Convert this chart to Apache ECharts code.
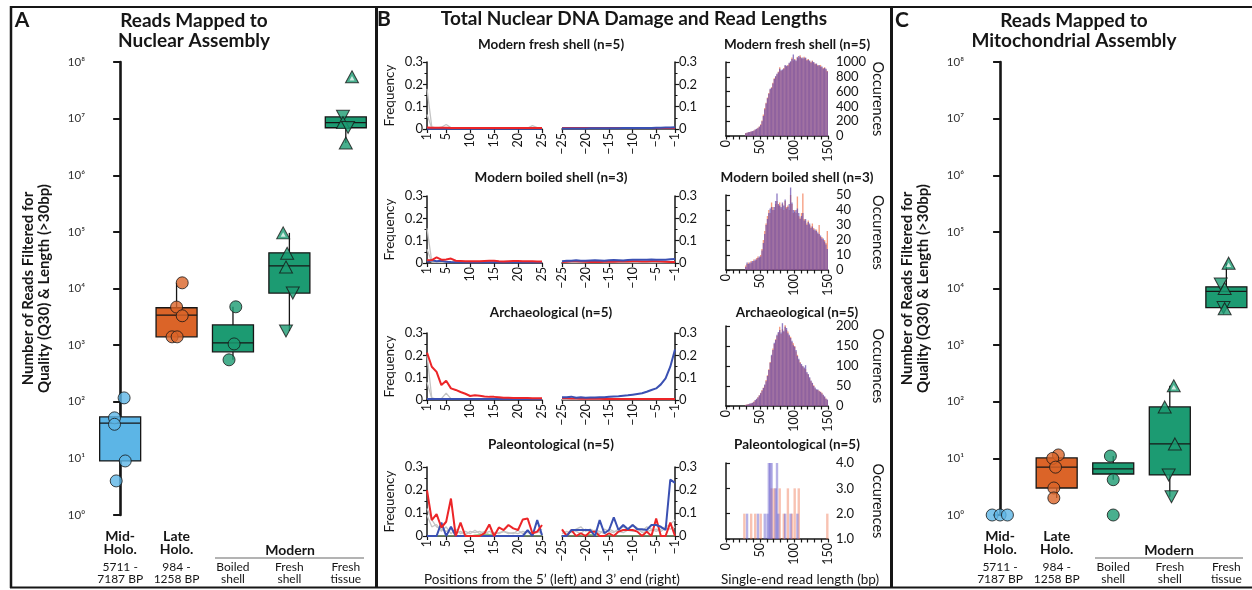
<!DOCTYPE html>
<html><head><meta charset="utf-8">
<script src="https://cdn.jsdelivr.net/npm/echarts@6/dist/echarts.min.js"></script>
<style>html,body{margin:0;padding:0;background:#fff}#c{width:1252px;height:590px}</style>
</head><body><div id="c"></div><script>
// ---------------- DATA ----------------
const groupNames = ['Mid-Holo.', 'Late Holo.', 'Boiled shell', 'Fresh shell', 'Fresh tissue'];
const groupLabelLines = [['Mid-','Holo.','5711 -','7187 BP'],['Late','Holo.','984 -','1258 BP'],['','','Boiled','shell'],['','','Fresh','shell'],['','','Fresh','tissue']];
const logTicks = [1,10,100,1e3,1e4,1e5,1e6,1e7,1e8];

// Panel A: reads mapped to nuclear assembly  [min, Q1, median, Q3, max]
const nucBox = [[4,9,42,54,117],[1400,1400,3400,4570,12600],[550,760,1100,2270,4750],[1780,8300,25000,42600,96000],[3.7e6,6.9e6,8.5e6,1.07e7,1.1e7]];
const nucPoints = [[117,52,40,9,4],[12600,4700,3300,1400,1400],[4750,1050,550],[96000,42000,24000,8300,1780],[5.5e7,1.1e7,8.5e6,7e6,3.7e6]];
const nucJitter = [[0.07,-0.1,-0.1,0.09,-0.07],[0.1,0,0.1,-0.08,0.01],[0.05,0.02,-0.07],[-0.11,-0.04,-0.06,0.06,-0.06],[0.11,-0.05,-0.05,0.04,0]];
const nucSample = [['c','c','c','c','c'],['c','c','c','c','c'],['c','c','c'],['U','u','u','d','d'],['U','d','u','d','u']];

// Panel C: reads mapped to mitochondrial assembly
const mitoBox = [null,[2,3,7,10.2,11.5],[4.2,5.3,6.5,8.3,11],[2.1,5.1,18,81,192],[4600,4600,8900,10700,28000]];
const mitoPoints = [[1,1,1],[11.5,10,7,3,2],[11,4.2,1],[192,81,18,5.1,2.1],[28000,12000,10000,4600,4400]];
const mitoJitter = [[-0.14,0,0.13],[0.03,-0.07,-0.02,-0.05,-0.05],[-0.05,0,0],[0.07,-0.09,0.09,-0.02,0.03],[0.04,-0.1,-0.03,-0.05,-0.03]];
const mitoSample = [['c','c','c'],['c','c','c','c','c'],['c','c','c'],['U','u','u','d','d'],['U','d','u','d','u']];

// Panel B: damage frequency by position
const posL = [1,2,3,4,5,6,7,8,9,10,11,12,13,14,15,16,17,18,19,20,21,22,23,24,25];
const posR = [-25,-24,-23,-22,-21,-20,-19,-18,-17,-16,-15,-14,-13,-12,-11,-10,-9,-8,-7,-6,-5,-4,-3,-2,-1];
const rowTitles = ['Modern fresh shell (n=5)','Modern boiled shell (n=3)','Archaeological (n=5)','Paleontological (n=5)'];

const freshRedL  = [0.007,0.006,0.006,0.006,0.006,0.005,0.005,0.005,0.005,0.005,0.005,0.005,0.005,0.005,0.005,0.005,0.005,0.005,0.005,0.005,0.005,0.005,0.005,0.005,0.005];
const freshBlueL = [0.001,0.001,0.001,0.001,0.001,0.001,0.001,0.001,0.001,0.001,0.001,0.001,0.001,0.001,0.001,0.001,0.001,0.001,0.001,0.001,0.001,0.001,0.001,0.001,0.001];
const freshGrayL1= [0.180,0.010,0.004,0.008,0.020,0.006,0.003,0.003,0.003,0.003,0.003,0.003,0.003,0.006,0.003,0.003,0.003,0.003,0.003,0.003,0.003,0.004,0.015,0.006,0.003];
const freshGrayL2= [0.065,0.004,0.003,0.003,0.006,0.003,0.003,0.003,0.003,0.003,0.003,0.003,0.003,0.003,0.003,0.003,0.003,0.003,0.003,0.003,0.003,0.003,0.003,0.003,0.003];
const freshRedR  = [0.005,0.005,0.005,0.005,0.005,0.005,0.005,0.005,0.005,0.005,0.005,0.005,0.005,0.005,0.005,0.005,0.005,0.005,0.005,0.005,0.005,0.005,0.005,0.005,0.005];
const freshBlueR = [0.002,0.002,0.002,0.002,0.002,0.002,0.003,0.003,0.003,0.003,0.003,0.003,0.003,0.004,0.004,0.004,0.004,0.005,0.005,0.005,0.006,0.006,0.007,0.007,0.008];
const freshGrayR1= [0.003,0.003,0.003,0.003,0.003,0.003,0.003,0.003,0.006,0.003,0.003,0.003,0.003,0.003,0.003,0.003,0.003,0.003,0.003,0.003,0.003,0.003,0.003,0.003,0.003];
const freshGrayR2= [0.002,0.002,0.002,0.002,0.002,0.002,0.002,0.002,0.002,0.002,0.002,0.002,0.002,0.002,0.002,0.002,0.002,0.002,0.002,0.002,0.002,0.002,0.002,0.002,0.002];

const boiledRedL  = [0.012,0.013,0.025,0.015,0.016,0.020,0.010,0.009,0.008,0.008,0.008,0.008,0.009,0.010,0.010,0.008,0.007,0.008,0.009,0.009,0.008,0.008,0.008,0.007,0.007];
const boiledBlueL = [0.005,0.012,0.008,0.010,0.006,0.004,0.003,0.003,0.003,0.003,0.003,0.003,0.003,0.003,0.003,0.003,0.003,0.003,0.003,0.003,0.003,0.003,0.003,0.003,0.003];
const boiledGrayL1= [0.155,0.006,0.004,0.004,0.004,0.004,0.004,0.004,0.004,0.004,0.004,0.004,0.004,0.004,0.004,0.004,0.004,0.004,0.004,0.004,0.004,0.004,0.004,0.004,0.004];
const boiledGrayL2= [0.062,0.004,0.003,0.003,0.003,0.003,0.003,0.003,0.003,0.003,0.003,0.003,0.003,0.003,0.003,0.003,0.003,0.003,0.003,0.003,0.003,0.003,0.003,0.003,0.003];
const boiledRedR  = [0.005,0.006,0.008,0.008,0.007,0.006,0.005,0.004,0.005,0.006,0.007,0.006,0.007,0.007,0.007,0.008,0.008,0.007,0.007,0.008,0.008,0.007,0.006,0.005,0.004];
const boiledBlueR = [0.008,0.010,0.010,0.012,0.010,0.010,0.011,0.012,0.011,0.010,0.012,0.013,0.012,0.011,0.013,0.014,0.015,0.014,0.015,0.016,0.015,0.014,0.015,0.017,0.018];
const boiledGrayR1= [0.003,0.003,0.003,0.003,0.003,0.003,0.003,0.003,0.003,0.003,0.003,0.003,0.003,0.003,0.003,0.003,0.003,0.003,0.003,0.003,0.003,0.003,0.003,0.003,0.003];
const boiledGrayR2= [0.002,0.002,0.002,0.002,0.002,0.002,0.002,0.002,0.002,0.002,0.002,0.002,0.002,0.002,0.002,0.002,0.002,0.002,0.002,0.002,0.002,0.002,0.002,0.002,0.002];

const archRedL  = [0.212,0.149,0.126,0.067,0.086,0.052,0.045,0.036,0.028,0.018,0.021,0.019,0.016,0.014,0.014,0.012,0.010,0.010,0.009,0.009,0.009,0.009,0.008,0.008,0.008];
const archBlueL = [0.004,0.004,0.004,0.004,0.004,0.004,0.004,0.004,0.004,0.004,0.004,0.004,0.004,0.004,0.004,0.004,0.004,0.004,0.004,0.004,0.004,0.004,0.004,0.004,0.004];
const archGrayL1= [0.200,0.010,0.004,0.004,0.004,0.004,0.004,0.004,0.004,0.004,0.004,0.004,0.004,0.004,0.004,0.004,0.004,0.004,0.004,0.004,0.004,0.004,0.004,0.004,0.004];
const archGrayL2= [0.080,0.006,0.004,0.006,0.030,0.006,0.004,0.004,0.004,0.004,0.004,0.004,0.004,0.004,0.004,0.004,0.004,0.004,0.004,0.004,0.004,0.004,0.004,0.004,0.004];
const archRedR  = [0.008,0.008,0.007,0.007,0.006,0.006,0.006,0.006,0.006,0.005,0.006,0.005,0.005,0.005,0.005,0.005,0.005,0.004,0.005,0.005,0.005,0.004,0.004,0.004,0.004];
const archBlueR = [0.012,0.012,0.015,0.010,0.012,0.010,0.011,0.011,0.012,0.012,0.015,0.016,0.017,0.019,0.021,0.024,0.027,0.030,0.037,0.045,0.052,0.070,0.097,0.149,0.226];
const archGrayR1= [0.003,0.003,0.003,0.003,0.003,0.003,0.003,0.003,0.003,0.003,0.003,0.003,0.003,0.003,0.003,0.003,0.003,0.003,0.003,0.003,0.003,0.003,0.003,0.003,0.003];
const archGrayR2= [0.002,0.002,0.002,0.002,0.002,0.002,0.002,0.002,0.002,0.002,0.002,0.002,0.002,0.002,0.002,0.002,0.002,0.002,0.002,0.002,0.002,0.002,0.002,0.002,0.002];

const paleoRedL  = [0.199,0.069,0.095,0.037,0.062,0.163,0,0.058,0,0,0,0,0.012,0.050,0,0.037,0.026,0.048,0.033,0.026,0.072,0.076,0.012,0.019,0.048];
const paleoBlueL = [0,0,0,0.058,0,0.040,0,0,0,0,0,0,0,0,0,0,0,0,0,0,0,0.026,0,0.069,0.004];
const paleoGrayL1= [0.120,0.070,0.040,0.030,0.020,0.030,0.010,0.020,0.005,0.020,0.015,0.020,0.010,0.020,0.010,0.015,0.020,0.010,0.015,0.010,0.020,0.015,0.010,0.020,0.010];
const paleoGrayL2= [0.090,0.040,0.050,0.020,0.040,0.010,0.030,0.010,0.020,0.010,0.025,0.010,0.020,0.005,0.015,0.010,0.020,0.015,0.010,0.025,0.010,0.020,0.010,0.015,0.030];
const paleoGreenL= [0,0,0,0,0,0,0,0,0,0,0.004,0.006,0.006,0.006,0.004,0,0,0,0,0,0,0,0,0,0];
const paleoRedR  = [0.029,0,0.026,0,0.012,0,0.019,0.019,0,0,0.012,0,0.019,0.026,0.026,0.026,0.019,0,0.019,0,0.076,0,0,0.058,0];
const paleoBlueR = [0,0,0.026,0.026,0.026,0.026,0.026,0,0.069,0.012,0.026,0.081,0.026,0.048,0.029,0.048,0.029,0.029,0.026,0.048,0.048,0.040,0.026,0.245,0.231];
const paleoGrayR1= [0.010,0.020,0.015,0.030,0.040,0.020,0.030,0.020,0.010,0.030,0.020,0.015,0.030,0.040,0.030,0.050,0.035,0.020,0.040,0.030,0.020,0.030,0.040,0.050,0.070];
const paleoGrayR2= [0.020,0.010,0.025,0.020,0.010,0.030,0.015,0.025,0.020,0.010,0.030,0.020,0.020,0.015,0.025,0.020,0.030,0.015,0.020,0.025,0.030,0.020,0.035,0.030,0.040];
const paleoGreenR= [0,0,0,0,0,0.004,0.006,0.004,0,0,0,0,0,0,0,0,0,0,0,0,0,0,0,0,0];

// Panel B: read-length histograms, 2-bp bins (centres in bp)
const binCenters = [25,27,29,31,33,35,37,39,41,43,45,47,49,51,53,55,57,59,61,63,65,67,69,71,73,75,77,79,81,83,85,87,89,91,93,95,97,99,101,103,105,107,109,111,113,115,117,119,121,123,125,127,129,131,133,135,137,139,141,143,145,147,149];
const freshHistA = [0,0,40,45,50,55,60,65,75,85,95,110,130,160,210,290,380,450,520,580,630,660,720,780,800,830,870,930,880,890,920,950,940,960,980,1000,1060,1020,1040,1010,1070,1050,1090,1060,1040,1070,1050,1030,1040,1010,1000,1020,990,980,970,960,950,960,930,920,930,900,880];
const freshHistB = [0,0,38,44,52,54,62,66,72,88,98,105,125,150,200,270,360,440,510,570,640,650,710,770,810,840,860,910,890,900,910,960,950,950,990,1010,1040,1100,1030,1020,1060,1080,1070,1050,1060,1050,1060,1020,1030,1020,990,1010,1000,970,980,950,960,940,940,910,920,910,870];
const boiledHistA = [0,0,3,4,5,4,6,5,7,6,8,9,8,10,14,20,26,31,36,40,38,45,42,40,44,46,43,45,41,44,40,46,42,43,40,50,44,38,40,38,49,36,35,38,51,34,33,31,33,30,29,31,28,26,27,24,30,22,22,20,20,18,26];
const boiledHistB = [0,0,2,5,4,5,5,6,6,7,7,8,9,9,13,18,24,30,34,38,41,42,40,42,46,51,44,43,42,45,43,47,41,42,44,55,45,40,39,40,41,38,34,36,38,33,34,30,32,31,28,29,27,27,26,25,24,23,21,21,19,17,14];
const archHistA = [0,0,3,4,5,5,6,8,11,14,17,22,27,33,40,46,52,65,77,92,110,125,144,155,167,175,182,198,180,192,185,202,190,186,175,173,160,157,150,136,128,115,110,102,98,94,92,82,78,69,62,57,52,44,40,40,38,36,33,27,23,19,15];
const archHistB = [0,0,2,4,4,6,7,8,10,15,18,21,26,32,38,45,54,62,75,90,108,128,140,158,165,178,185,190,184,207,188,198,195,182,178,170,163,152,148,140,125,118,108,105,100,96,102,85,80,72,64,58,50,46,42,41,37,35,31,28,24,18,16];
const paleoHistA = [null,2,1,1,1,1,2,1,1,2,1,1,1,2,1,1,1,1,1,1,1,3,1,3,1,1,1,3,1,1,2,1,1,3,1,1,2,1,3,1,1,3,1,1,1,null,1,null,1,null,1,null,1,null,1,null,null,null,null,null,null,null,2];
const paleoHistB = [null,null,1,2,1,1,1,1,1,1,1,2,1,1,1,1,2,1,2,4,4,4,1,1,3,4,2,1,1,1,1,2,1,1,1,2,1,1,1,1,2,1,1,1,null,1,null,1,null,1,null,1,null,1,null,null,1,null,null,null,null,null,null];
const histYTicks = [[0,200,400,600,800,1000],[0,10,20,30,40,50],[0,50,100,150,200],[1,2,3,4]];

// ---------------- STYLE / LAYOUT ----------------
const FF = 'Lato, "Open Sans", sans-serif';
const INK = '#161616';
const groupColors = ['#5cb5e6','#db6428','#1c9b72','#1c9b72','#1c9b72'];
const RED = '#ec2528', BLUE = '#3a50b2', GRAY = '#c4c4c4', GREEN = '#8cc77a';
const HIST_O = 'rgba(240,110,70,0.68)', HIST_B = 'rgba(100,72,172,0.70)';
const PALEO_O = 'rgba(240,120,85,0.45)', PALEO_B = 'rgba(110,100,205,0.5)';
const sup = ['\u2070','\u00b9','\u00b2','\u00b3','\u2074','\u2075','\u2076','\u2077','\u2078'];

const grids = [], xAxes = [], yAxes = [], series = [];

function boxRenderer(params, api) {
  const x = api.value(0);
  const pMin = api.coord([x, api.value(1)]), pQ1 = api.coord([x, api.value(2)]);
  const pMed = api.coord([x, api.value(3)]), pQ3 = api.coord([x, api.value(4)]);
  const pMax = api.coord([x, api.value(5)]);
  const hw = 20.5, st = {stroke: INK, lineWidth: 1.3};
  return {type: 'group', children: [
    {type: 'line', shape: {x1: pQ3[0], y1: pQ3[1], x2: pMax[0], y2: pMax[1]}, style: st},
    {type: 'line', shape: {x1: pQ1[0], y1: pQ1[1], x2: pMin[0], y2: pMin[1]}, style: st},
    {type: 'rect', shape: {x: pQ1[0] - hw, y: pQ3[1], width: 2 * hw, height: pQ1[1] - pQ3[1]}, style: {fill: api.visual('color'), stroke: INK, lineWidth: 1.3}},
    {type: 'line', shape: {x1: pMed[0] - hw, y1: pMed[1], x2: pMed[0] + hw, y2: pMed[1]}, style: st}
  ]};
}

function addBoxPanel(gi, geom, boxes, points, jitter, sample) {
  grids.push({left: geom.left, top: 62, width: geom.width, height: 453});
  xAxes.push({gridIndex: gi, type: 'value', min: geom.xmin, max: geom.xmax,
    axisLine: {show: false}, axisTick: {show: false}, splitLine: {show: false},
    axisLabel: {customValues: [0,1,2,3,4], margin: 15, color: INK, fontFamily: FF,
      formatter: v => { const l = groupLabelLines[Math.round(v)]; return `{b|${l[0] || ' '}}\n{b|${l[1] || ' '}}\n{n1|${l[2]}}\n{n|${l[3]}}`; },
      rich: {b: {fontFamily: FF, fontWeight: 'bold', fontSize: 14, lineHeight: 13, color: INK},
             n1: {fontFamily: FF, fontSize: 12, lineHeight: 17, verticalAlign: 'bottom', color: INK},
             n: {fontFamily: FF, fontSize: 12, lineHeight: 12, color: INK}}}});
  yAxes.push({gridIndex: gi, type: 'log', logBase: 10, min: 1, max: 1e8,
    axisLine: {show: true, lineStyle: {color: INK, width: 2.6}},
    axisTick: {show: true, length: 7, lineStyle: {color: INK, width: 2}},
    splitLine: {show: false},
    axisLabel: {color: '#333', fontFamily: FF, fontSize: 11.5, margin: 3, formatter: v => '10' + sup[Math.round(Math.log10(v))]},
    name: 'Number of Reads Filtered for\nQuality (Q30) & Length (>30bp)', nameLocation: 'middle', nameRotate: 90, nameGap: geom.nameGap,
    nameTextStyle: {fontFamily: FF, fontWeight: 'bold', fontSize: 15, lineHeight: 16, color: INK}});
  series.push({type: 'custom', xAxisIndex: gi, yAxisIndex: gi, renderItem: boxRenderer, encode: {x: 0, y: [1,2,3,4,5]}, z: 2,
    data: boxes.map((b, i) => b ? {value: [i].concat(b), itemStyle: {color: groupColors[i]}} : null).filter(d => d)});
  const pts = [], hi = [];
  points.forEach((arr, i) => arr.forEach((v, k) => {
    const s = sample[i][k];
    const item = {value: [i + jitter[i][k], v], itemStyle: {color: groupColors[i], borderColor: INK, borderWidth: 1}};
    if (s === 'c') { item.symbol = 'circle'; item.symbolSize = 12; }
    else { item.symbol = 'triangle'; item.symbolSize = [13, 12]; if (s === 'd') item.symbolRotate = 180; }
    pts.push(item);
    if (s === 'U') hi.push({value: [i + jitter[i][k], v]});
  }));
  series.push({type: 'scatter', xAxisIndex: gi, yAxisIndex: gi, data: pts, z: 3});
  series.push({type: 'scatter', xAxisIndex: gi, yAxisIndex: gi, data: hi, z: 4, symbol: 'triangle', symbolSize: [5, 4.5], symbolOffset: [0, 1.5], itemStyle: {color: '#f4fbf8'}});
}

addBoxPanel(0, {left: 88, width: 286, xmin: -0.57, xmax: 4.5, nameGap: 36}, nucBox, nucPoints, nucJitter, nucSample);
addBoxPanel(1, {left: 967, width: 282, xmin: -0.585, xmax: 4.4, nameGap: 36}, mitoBox, mitoPoints, mitoJitter, mitoSample);

// Panel B
const damage = [
  {redL: freshRedL, blueL: freshBlueL, grayL: [freshGrayL1, freshGrayL2], greenL: null, redR: freshRedR, blueR: freshBlueR, grayR: [freshGrayR1, freshGrayR2], greenR: null},
  {redL: boiledRedL, blueL: boiledBlueL, grayL: [boiledGrayL1, boiledGrayL2], greenL: null, redR: boiledRedR, blueR: boiledBlueR, grayR: [boiledGrayR1, boiledGrayR2], greenR: null},
  {redL: archRedL, blueL: archBlueL, grayL: [archGrayL1, archGrayL2], greenL: null, redR: archRedR, blueR: archBlueR, grayR: [archGrayR1, archGrayR2], greenR: null},
  {redL: paleoRedL, blueL: paleoBlueL, grayL: [paleoGrayL1, paleoGrayL2], greenL: paleoGreenL, redR: paleoRedR, blueR: paleoBlueR, grayR: [paleoGrayR1, paleoGrayR2], greenR: paleoGreenR}
];
const hists = [[freshHistA, freshHistB],[boiledHistA, boiledHistB],[archHistA, archHistB],[paleoHistA, paleoHistB]];

const dTop = [62,196,333,467], dH = [67,67,67,69];
const hTop = [62,195,326,463], hH = [74,75,80,76];
const subY = [45,178,313,445];

const axisLineSt = {show: true, lineStyle: {color: INK, width: 1.5}};
const tickSt = {show: true, length: 4, lineStyle: {color: INK, width: 1.2}};
const lblSt = {color: INK, fontFamily: FF, fontSize: 13};

function lineSeries(gi, xs, ys, color, width, z) {
  return {type: 'line', xAxisIndex: gi, yAxisIndex: gi, data: xs.map((x, i) => [x, ys[i]]), showSymbol: false, symbol: 'none',
    lineStyle: {color: color, width: width}, z: z, silent: true};
}

for (let r = 0; r < 4; r++) {
  const d = damage[r];
  // left damage
  let gi = grids.length;
  grids.push({left: 427, top: dTop[r], width: 115, height: dH[r]});
  xAxes.push({gridIndex: gi, type: 'value', min: 1, max: 25, axisLine: axisLineSt, splitLine: {show: false},
    axisTick: Object.assign({customValues: [1,5,10,15,20,25]}, tickSt),
    axisLabel: Object.assign({customValues: [1,5,10,15,20,25], rotate: 90, margin: 4}, lblSt, {fontSize: 12.5})});
  yAxes.push({gridIndex: gi, type: 'value', min: 0, max: 0.3, interval: 0.1, axisLine: axisLineSt, axisTick: tickSt, splitLine: {show: false},
    minorTick: {show: true, splitNumber: 2, length: 2.5, lineStyle: {color: INK, width: 1}},
    axisLabel: Object.assign({margin: 4, formatter: v => v === 0 ? '0' : v.toFixed(1)}, lblSt),
    name: 'Frequency', nameLocation: 'middle', nameRotate: 90, nameGap: 30, nameTextStyle: {fontFamily: FF, fontSize: 13.5, color: INK}});
  d.grayL.forEach(g => series.push(lineSeries(gi, posL, g, GRAY, 1.3, 1)));
  if (d.greenL) series.push(lineSeries(gi, posL, d.greenL, GREEN, 1.2, 2));
  series.push(lineSeries(gi, posL, d.blueL, BLUE, 2, 3));
  series.push(lineSeries(gi, posL, d.redL, RED, 2, 4));

  // right damage
  gi = grids.length;
  grids.push({left: 562, top: dTop[r], width: 113, height: dH[r]});
  xAxes.push({gridIndex: gi, type: 'value', min: -25, max: -1, axisLine: axisLineSt, splitLine: {show: false},
    axisTick: Object.assign({customValues: [-25,-20,-15,-10,-5,-1]}, tickSt),
    axisLabel: Object.assign({customValues: [-25,-20,-15,-10,-5,-1], rotate: 90, margin: 4, formatter: v => '\u2212' + Math.abs(v)}, lblSt, {fontSize: 12.5})});
  yAxes.push({gridIndex: gi, type: 'value', position: 'right', min: 0, max: 0.3, interval: 0.1, axisLine: axisLineSt, axisTick: tickSt, splitLine: {show: false},
    minorTick: {show: true, splitNumber: 2, length: 2.5, lineStyle: {color: INK, width: 1}},
    axisLabel: Object.assign({margin: 4, formatter: v => v === 0 ? '0' : v.toFixed(1)}, lblSt)});
  d.grayR.forEach(g => series.push(lineSeries(gi, posR, g, GRAY, 1.3, 1)));
  if (d.greenR) series.push(lineSeries(gi, posR, d.greenR, GREEN, 1.2, 2));
  series.push(lineSeries(gi, posR, d.redR, RED, 2, 3));
  series.push(lineSeries(gi, posR, d.blueR, BLUE, 2, 4));

  // histogram
  gi = grids.length;
  grids.push({left: 726, top: hTop[r], width: 102, height: hH[r]});
  const yt = histYTicks[r];
  xAxes.push({gridIndex: gi, type: 'value', min: 0, max: 150, interval: 10, axisLine: axisLineSt, splitLine: {show: false},
    axisTick: Object.assign({}, tickSt, {length: 3.5}),
    axisLabel: Object.assign({rotate: 90, margin: 4, formatter: v => v % 50 === 0 ? String(v) : ''}, lblSt, {fontSize: 12.5})});
  yAxes.push({gridIndex: gi, type: 'value', position: 'right', offset: 4, min: yt[0], max: yt[yt.length - 1], interval: yt[1] - yt[0],
    axisLine: axisLineSt, axisTick: tickSt, splitLine: {show: false},
    axisLabel: Object.assign({margin: 4, formatter: v => r === 3 ? v.toFixed(1) : String(v)}, lblSt),
    name: 'Occurences', nameLocation: 'middle', nameRotate: -90, nameGap: 38, nameTextStyle: {fontFamily: FF, fontSize: 14.5, color: INK}});
  hists[r].forEach((h, k) => {
    const s = {type: 'bar', xAxisIndex: gi, yAxisIndex: gi, clip: r === 3,
      data: binCenters.map((c, i) => [c, h[i] == null ? '-' : h[i]]),
      barGap: '-100%', barCategoryGap: '0%', silent: true, z: 2 + k,
      itemStyle: {color: r === 3 ? (k === 0 ? PALEO_O : PALEO_B) : (k === 0 ? HIST_O : HIST_B)}};
    if (r === 3) s.barWidth = 2.4;
    series.push(s);
  });
}

// ---------------- TEXT & FRAMES ----------------
function txt(x, y, text, size, weight, lh) {
  return {type: 'text', x: x, y: y, silent: true,
    style: {text: text, fill: INK, fontFamily: FF, fontSize: size, fontWeight: weight || 'normal', align: 'center', verticalAlign: 'middle', lineHeight: lh || size + 2}};
}
function ln(x1, y1, x2, y2, w, c) {
  return {type: 'line', silent: true, shape: {x1, y1, x2, y2}, style: {stroke: c || INK, lineWidth: w}};
}
const graphics = [
  ln(10, 7, 1252, 7, 2), ln(10, 587.5, 1252, 587.5, 2), ln(11, 6, 11, 588, 2.5),
  ln(376.5, 6, 376.5, 588, 3), ln(891.5, 6, 891.5, 588, 3),
  txt(22, 20, 'A', 21, 'bold'), txt(384, 19, 'B', 21, 'bold'), txt(902, 20, 'C', 21, 'bold'),
  txt(194, 31, 'Reads Mapped to\nNuclear Assembly', 19, 'bold', 19.5),
  txt(634, 19, 'Total Nuclear DNA Damage and Read Lengths', 19, 'bold'),
  txt(1074, 31, 'Reads Mapped to\nMitochondrial Assembly', 19, 'bold', 19.5),
  txt(290, 550, 'Modern', 14, 'bold'), ln(215, 558, 364, 558, 1.5, '#9a9a9a'),
  txt(1169, 550, 'Modern', 14, 'bold'), ln(1095, 558, 1243, 558, 1.5, '#9a9a9a'),
  txt(552, 580, 'Positions from the 5\u2019 (left) and 3\u2019 end (right)', 13.5, 'normal'),
  txt(800, 580, 'Single-end read length (bp)', 13.5, 'normal')
];
for (let r = 0; r < 4; r++) {
  graphics.push(txt(551, subY[r], rowTitles[r], 13.5, 'bold'));
  graphics.push(txt(797, subY[r], rowTitles[r], 13.5, 'bold'));
}

const chart = echarts.init(document.getElementById('c'));
chart.setOption({animation: false, backgroundColor: '#fff', grid: grids, xAxis: xAxes, yAxis: yAxes, series: series, graphic: graphics});
</script></body></html>
